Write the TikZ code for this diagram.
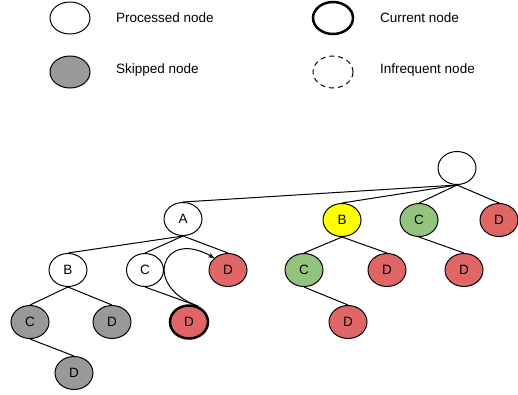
\documentclass[tikz,border=0pt]{standalone}
\usepackage{fontspec}
\setmainfont{Liberation Sans}
\usetikzlibrary{shapes.geometric,arrows.meta}
\pgfdeclarelayer{edgelayer}
\pgfdeclarelayer{nodelayer}
\pgfsetlayers{edgelayer,nodelayer,main}
\definecolor{redfill}{RGB}{224,102,102}
\definecolor{greenfill}{RGB}{147,196,125}
\definecolor{greyfill}{RGB}{153,153,153}
\definecolor{yellowfill}{RGB}{255,255,0}
\tikzset{font=\fontsize{13.5}{16}\selectfont}
\tikzstyle{none}=[inner sep=0pt]
\tikzstyle{legendtext}=[inner sep=0pt,anchor=west]
\tikzstyle{oval}=[ellipse,draw=black,fill=white,line width=1pt,minimum width=38pt,minimum height=33pt,inner sep=0pt]
\tikzstyle{keyoval}=[oval,minimum width=40pt,minimum height=32pt]
\tikzstyle{greynode}=[oval,fill=greyfill]
\tikzstyle{rednode}=[oval,fill=redfill]
\tikzstyle{greennode}=[oval,fill=greenfill]
\tikzstyle{yellownode}=[oval,fill=yellowfill]
\tikzstyle{currentnode}=[keyoval,line width=2.5pt]
\tikzstyle{redcurrent}=[rednode,line width=2.5pt]
\tikzstyle{rarenode}=[keyoval,dash pattern=on 5pt off 4pt]
\tikzstyle{edge}=[line width=1pt]

\begin{document}
\begin{tikzpicture}[x=1pt,y=1pt]
	\useasboundingbox (0,0) rectangle (518,-394);
	\begin{pgfonlayer}{nodelayer}
		% legend
		\node [style=keyoval] (20) at (70, -18) {};
		\node [style=legendtext] (21) at (116, -18) {Processed node};
		\node [style=currentnode] (22) at (333, -18) {};
		\node [style=legendtext] (23) at (380, -18) {Current node};
		\node [style=keyoval, fill=greyfill] (24) at (70, -72) {};
		\node [style=legendtext] (25) at (116, -70) {Skipped node};
		\node [style=rarenode] (26) at (333, -72) {};
		\node [style=legendtext] (27) at (380, -70) {Infrequent node};
		% tree
		\node [style=oval] (0) at (457, -168) {};
		\node [style=oval] (1) at (183, -219) {A};
		\node [style=yellownode] (2) at (342, -220) {B};
		\node [style=greennode] (3) at (419, -220) {C};
		\node [style=rednode] (4) at (499, -220) {D};
		\node [style=oval] (5) at (68, -270) {B};
		\node [style=oval, minimum width=37pt] (6) at (145, -270) {C};
		\node [style=rednode] (7) at (228, -270) {D};
		\node [style=greennode] (8) at (304, -270) {C};
		\node [style=rednode] (9) at (387, -270) {D};
		\node [style=rednode] (10) at (464, -270) {D};
		\node [style=greynode] (11) at (30, -322) {C};
		\node [style=greynode] (12) at (112, -322) {D};
		\node [style=redcurrent] (13) at (189, -322) {D};
		\node [style=rednode] (14) at (348, -322) {D};
		\node [style=greynode] (15) at (74, -373) {D};
	\end{pgfonlayer}
	\begin{pgfonlayer}{edgelayer}
		\draw [style=edge] (0.south) to (1.north);
		\draw [style=edge] (0.south) to (2.north);
		\draw [style=edge] (0.south) to (3.north);
		\draw [style=edge] (0.south) to (4.north);
		\draw [style=edge] (1.south) to (5.north);
		\draw [style=edge] (1.south) to (6.north);
		\draw [style=edge] (1.south) to (7.north);
		\draw [style=edge] (5.south) to (11.north);
		\draw [style=edge] (5.south) to (12.north);
		\draw [style=edge] (11.south) to (15.north);
		\draw [style=edge] (6.south) to (13.60);
		\draw [style=edge] (2.south) to (8.north);
		\draw [style=edge] (2.south) to (9.north);
		\draw [style=edge] (3.south) to (10.north);
		\draw [style=edge] (8.south) to (14.north);
		\draw [style=edge, -{Stealth[length=6pt,width=5pt]}] [in=150, out=160, looseness=3] (13.62) to (7.north west);
	\end{pgfonlayer}
\end{tikzpicture}
\end{document}
